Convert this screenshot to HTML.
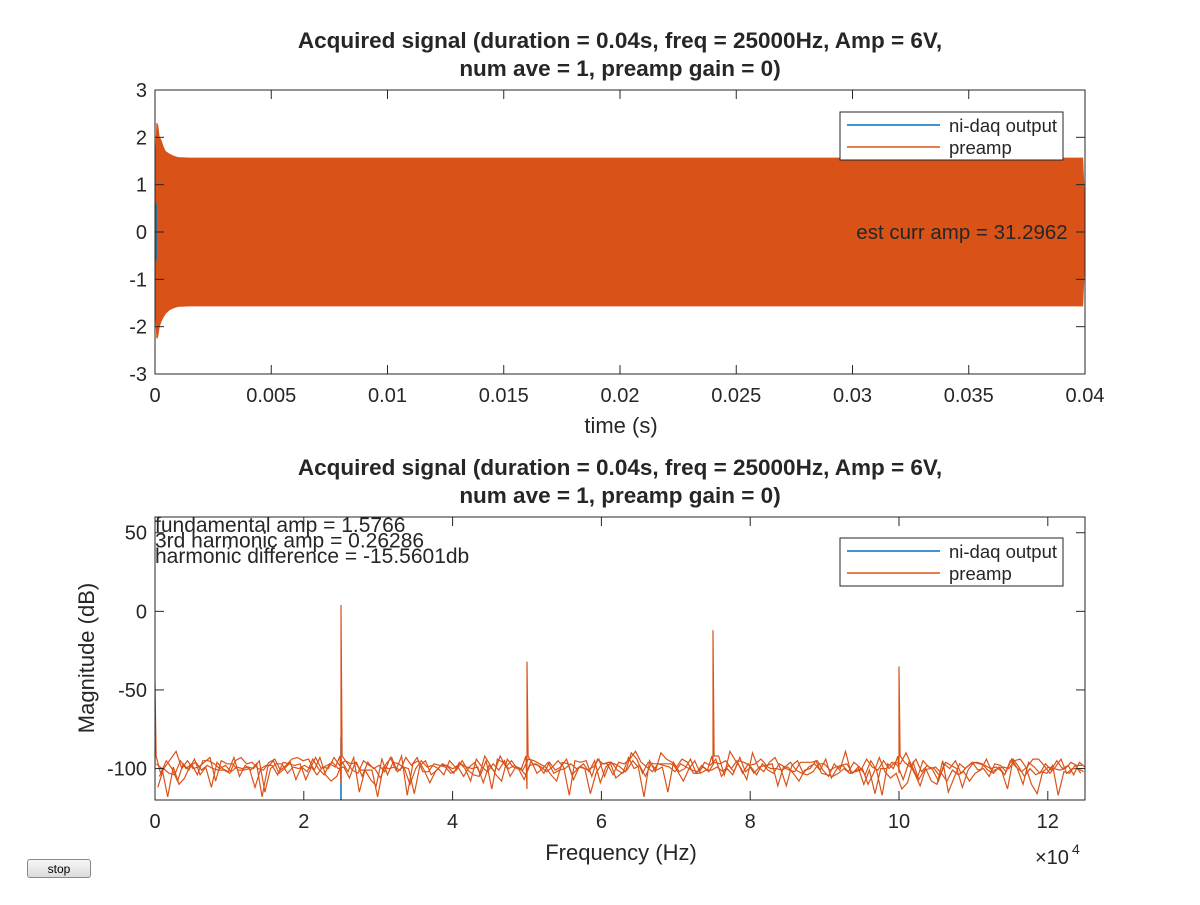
<!DOCTYPE html>
<html><head><meta charset="utf-8"><style>
body{margin:0;background:#fff;width:1200px;height:900px;overflow:hidden;font-family:"Liberation Sans",sans-serif}
svg text{font-family:"Liberation Sans",sans-serif}
#stop{position:absolute;left:27px;top:859px;width:64px;height:19px;font-size:12px;border:1px solid #888;border-radius:3px;background:linear-gradient(#f6f6f6,#dcdcdc);padding:0}
</style></head><body>
<svg width="1200" height="900" id="fig"></svg>
<button id="stop">stop</button>
<script>
// top chart data (envelope of 25 kHz carrier)
const envT=[0,0.00003,0.00008,0.00012,0.00018,0.00025,0.00035,0.00045,0.0006,0.0008,0.001,0.0015,0.01,0.02,0.03,0.0399,0.04];
const envHi=[0.3,1.6,2.3,2.25,2.0,1.95,1.8,1.7,1.65,1.6,1.57,1.56,1.56,1.56,1.56,1.56,0.4];
const envLo=[-0.5,-1.7,-2.25,-2.2,-2.0,-1.9,-1.8,-1.72,-1.65,-1.6,-1.57,-1.56,-1.56,-1.56,-1.56,-1.56,-0.4];
const topXTicks=[0,0.005,0.01,0.015,0.02,0.025,0.03,0.035,0.04];
const topXLabels=["0","0.005","0.01","0.015","0.02","0.025","0.03","0.035","0.04"];
const topYTicks=[-3,-2,-1,0,1,2,3];
// bottom chart data
const noise=[-98,-103,-95,-100,-108,-97,-101,-94,-104,-99,-112,-96,-100,-102,-93,-105,-98,-101,-97,-118,-99,-95,-103,-100,-96,-107,-99,-102,-94,-100,-104,-97,-99,-110,-96,-101,-103,-95,-98,-100,-106,-97,-93,-102,-99,-100,-116,-98,-95,-104,-101,-97,-99,-103,-96,-100,-108,-94,-99,-102,-97,-101,-95,-105,-99,-100,-113,-97,-98,-103,-96,-101,-99,-94,-104,-100,-97,-102,-95,-109,-99,-96,-101,-103,-93,-100,-98,-105,-97,-101,-99,-115,-96,-102,-100,-94,-103,-98,-101,-97,-92,-104,-89,-95,-100,-107,-90,-99,-102,-96,-93,-100,-111,-98,-95,-103,-99,-97,-101,-94,-106,-100,-98,-102,-96,-99,-104,-95,-101,-117,-97,-100,-103,-96,-99,-94,-102,-98,-101,-108,-97,-100,-95,-103,-99,-96,-101,-100,-105,-97,-98,-102,-94,-100,-110,-96,-99,-103,-97,-101,-95,-100,-98,-104,-96,-99];
const peakF=[0,25000,50000,75000,100000];
const peakDb=[-45,4,-32,-12,-35];
const blueF=[25000];
const blueDb=[-80];
const botXTicks=[0,20000,40000,60000,80000,100000,120000];
const botXLabels=["0","2","4","6","8","10","12"];
const botYTicks=[-100,-50,0,50];

const svg=document.getElementById('fig');
const NS='http://www.w3.org/2000/svg';
function el(tag,attrs,parent){const e=document.createElementNS(NS,tag);for(const k in attrs)e.setAttribute(k,attrs[k]);(parent||svg).appendChild(e);return e;}
function txt(s,x,y,size,anchor,weight,parent){const t=el('text',{x:x,y:y,'font-size':size,'text-anchor':anchor||'start','font-weight':weight||'normal',fill:'#262626'},parent);t.textContent=s;return t;}
const OR='#d95319',BL='#0072bd';
const L=155,R=1085;
// TOP
const tT=90,tB=374;
const tx=t=>L+(t/0.04)*(R-L), ty=v=>tT+(3-v)/6*(tB-tT);
const g1=el('g',{});


let d='M'+envT.map((t,i)=>tx(t)+','+ty(envHi[i])).join(' L');
for(let i=envT.length-1;i>=0;i--)d+=' L'+tx(envT[i])+','+ty(envLo[i]);
const area=el('path',{d:d+'Z',fill:OR,stroke:OR,'stroke-width':1},g1);


const bs=el('line',{x1:tx(0)+1,x2:tx(0)+1,y1:ty(0.6),y2:ty(-0.6),stroke:BL,'stroke-width':1.5},g1);


el('rect',{x:L,y:tT,width:R-L,height:tB-tT,fill:'none',stroke:'#262626','stroke-width':1},g1);
topXTicks.forEach((t,i)=>{const x=tx(t);el('line',{x1:x,x2:x,y1:tB,y2:tB-9,stroke:'#262626'},g1);el('line',{x1:x,x2:x,y1:tT,y2:tT+9,stroke:'#262626'},g1);
 const lb=txt(topXLabels[i],x,tB+28,20,'middle',null,g1);});
topYTicks.forEach(v=>{const y=ty(v);el('line',{x1:L,x2:L+9,y1:y,y2:y,stroke:'#262626'},g1);el('line',{x1:R,x2:R-9,y1:y,y2:y,stroke:'#262626'},g1);
 const lb=txt(String(v),L-8,y+7,20,'end',null,g1);});
const xt1=txt('time (s)',621,433,22,'middle',null,g1);
const ti1=txt('Acquired signal (duration = 0.04s, freq = 25000Hz, Amp = 6V,',620,48,22.5,'middle','bold',g1);
txt('num ave = 1, preamp gain = 0)',620,76,22.5,'middle','bold',g1);
const an=txt('est curr amp = 31.2962',962,239,20.5,'middle',null,g1);
function legend(y0,parent){const lg=el('g',{},parent);
 el('rect',{x:840,y:y0,width:223,height:48,fill:'#fff',stroke:'#262626'},lg);
 el('line',{x1:847,x2:940,y1:y0+13,y2:y0+13,stroke:BL,'stroke-width':1.5},lg);
 el('line',{x1:847,x2:940,y1:y0+35,y2:y0+35,stroke:OR,'stroke-width':1.5},lg);
 const a=txt('ni-daq output',949,y0+20,18.5,'start',null,lg);
 const b=txt('preamp',949,y0+42,18.5,'start',null,lg);}
legend(112,g1);
// BOTTOM
const bT=517,bB=800;
const fx=f=>L+(f/125000)*(R-L), fy=v=>bT+(60-v)/180*(bB-bT);
const g2=el('g',{});


const N=noise.length;
const cp=el('clipPath',{id:'cb'},g2);el('rect',{x:L,y:bT,width:R-L,height:bB-bT},cp);
const bl=el('polyline',{points:blueF.map(f=>fx(f)+','+fy(-120)+' '+fx(f)+','+fy(blueDb[0])).join(' '),fill:'none',stroke:BL,'stroke-width':1.5,'clip-path':'url(#cb)'},g2);


const passes=[[0,1],[0.25,7],[0.5,13],[0.75,29]];
passes.forEach(([off,mul],pi)=>{
 const pts=noise.map((v,i)=>[(i+off)/(N-1)*125000,noise[(i*mul+pi*5)%N]]).filter(p=>p[0]<=125000);
 if(pi===0)peakF.forEach((f,k)=>{pts.push([f-150,-92]);pts.push([f,peakDb[k]]);pts.push([f+150,-92]);});
 pts.sort((a,b)=>a[0]-b[0]);
 const pl=el('polyline',{points:pts.map(p=>fx(p[0]).toFixed(1)+','+fy(p[1]).toFixed(1)).join(' '),fill:'none',stroke:OR,'stroke-width':1.2,'clip-path':'url(#cb)'},g2);
 
 
});
el('rect',{x:L,y:bT,width:R-L,height:bB-bT,fill:'none',stroke:'#262626'},g2);
botXTicks.forEach((f,i)=>{const x=fx(f);el('line',{x1:x,x2:x,y1:bB,y2:bB-9,stroke:'#262626'},g2);el('line',{x1:x,x2:x,y1:bT,y2:bT+9,stroke:'#262626'},g2);
 const lb=txt(botXLabels[i],x,bB+28,20,'middle',null,g2);});
botYTicks.forEach(v=>{const y=fy(v);el('line',{x1:L,x2:L+9,y1:y,y2:y,stroke:'#262626'},g2);el('line',{x1:R,x2:R-9,y1:y,y2:y,stroke:'#262626'},g2);
 const lb=txt(String(v),L-8,y+7,20,'end',null,g2);});
const xt2=txt('Frequency (Hz)',621,860,22,'middle',null,g2);
const ex=txt('×10',1035,864,20,'start',null,g2);
txt('4',1072,854,14,'start',null,g2);
const yt=txt('Magnitude (dB)',0,0,22,'middle',null,g2);yt.setAttribute('transform','translate(94,658) rotate(-90)');
const ti2=txt('Acquired signal (duration = 0.04s, freq = 25000Hz, Amp = 6V,',620,475,22.5,'middle','bold',g2);
txt('num ave = 1, preamp gain = 0)',620,503,22.5,'middle','bold',g2);
['fundamental amp = 1.5766','3rd harmonic amp = 0.26286','harmonic difference = -15.5601db'].forEach((s,i)=>{const a=txt(s,155,532+i*15.5,21,'start',null,g2);});
legend(538,g2);
</script>
</body></html>
